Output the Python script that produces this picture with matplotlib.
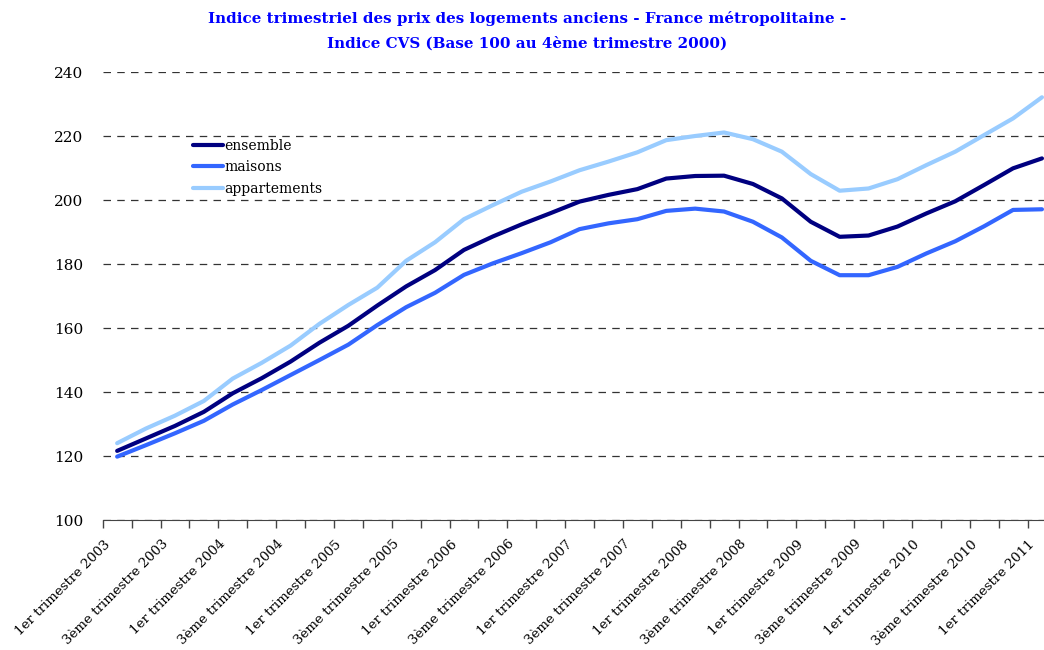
"""Indice trimestriel des prix des logements anciens"""

from matplotlib import pyplot as plt
from matplotlib.ticker import MultipleLocator
from matplotlib.transforms import ScaledTranslation
import numpy as np

# trimestres : du 1er trimestre 2003 au 1er trimestre 2011
trimestres = []
for annee in range(2003, 2012):
    for t in ['1er', '2ème', '3ème', '4ème']:
        trimestres.append(t + ' trimestre ' + str(annee))
trimestres = trimestres[:33]

ensemble = [121.6, 125.5, 129.4, 133.8, 139.6, 144.3, 149.5, 155.4, 160.7, 167.0,
            173.0, 178.1, 184.4, 188.6, 192.4, 195.9, 199.5, 201.6, 203.4, 206.7,
            207.5, 207.6, 205.0, 200.5, 193.2, 188.5, 188.9, 191.7, 195.8, 199.6,
            204.7, 209.9, 213.0]
maisons = [119.8, 123.4, 127.1, 131.0, 136.1, 140.6, 145.3, 150.0, 154.8, 160.9,
           166.5, 171.0, 176.6, 180.2, 183.4, 186.8, 190.9, 192.7, 194.0, 196.6,
           197.3, 196.4, 193.2, 188.3, 181.0, 176.5, 176.5, 179.1, 183.3, 187.1,
           191.8, 196.9, 197.1]
appartements = [124.0, 128.6, 132.6, 137.2, 144.2, 149.1, 154.5, 161.3, 167.2, 172.6,
                181.0, 186.8, 194.0, 198.4, 202.6, 205.8, 209.3, 212.0, 214.9, 218.7,
                220.0, 221.1, 219.0, 215.1, 208.1, 202.9, 203.6, 206.5, 210.9, 215.1,
                220.3, 225.5, 232.1]

plt.rcParams['font.family'] = ['DejaVu Serif']

fig = plt.figure(figsize=(10.44, 6.5), dpi=100)
# la zone de tracé dépasse à droite, comme dans l'original
ax = fig.add_axes([102.7 / 1044, 130 / 650, 33 * 28.9 / 1044, 448 / 650])

x = np.arange(len(trimestres))
ax.plot(x, ensemble, color='#000080', lw=3, label='ensemble', solid_capstyle='round')
ax.plot(x, maisons, color='#3366FF', lw=3, label='maisons', solid_capstyle='round')
ax.plot(x, appartements, color='#99CCFF', lw=3, label='appartements', solid_capstyle='round')

ax.set_xlim(-0.5, len(trimestres) - 0.5)
ax.set_ylim(100, 240)
ax.yaxis.set_major_locator(MultipleLocator(20))
ax.tick_params(axis='y', length=0, labelsize=11, pad=14)

ax.set_xticks(x[::2])
ax.set_xticklabels(trimestres[::2], rotation=45, ha='right', va='center',
                   rotation_mode='anchor', fontsize=9.6)
ax.set_xticks(np.arange(-0.5, len(trimestres)), minor=True)
ax.tick_params(axis='x', which='major', length=0, pad=16)
ax.tick_params(axis='x', which='minor', length=6, width=1, color='#444444')

# décalage des étiquettes vers la gauche
decal = ScaledTranslation(-9 / 100, 0, fig.dpi_scale_trans)
for lab in ax.get_xticklabels():
    lab.set_transform(lab.get_transform() + decal)

ax.grid(axis='y', linestyle=(0, (6, 5)), color='#333333', lw=0.9)
ax.set_axisbelow(True)
for s in ['left', 'right', 'top']:
    ax.spines[s].set_visible(False)
ax.spines['bottom'].set_color('#444444')

ax.legend(loc='upper left', bbox_to_anchor=(180 / 1044, 1 - 126 / 650),
          bbox_transform=fig.transFigure, frameon=False, fontsize=10,
          handlelength=2.2, handletextpad=0.1, labelspacing=0.55)

fig.text(0.505, 1 - 19 / 650, 'Indice trimestriel des prix des logements anciens - France métropolitaine -',
         ha='center', va='center', color='#0000FF', fontsize=10.9, fontweight='bold')
fig.text(0.505, 1 - 43 / 650, 'Indice CVS (Base 100 au 4ème trimestre 2000)',
         ha='center', va='center', color='#0000FF', fontsize=10.9, fontweight='bold')

fig.savefig('out.png', dpi=100)
